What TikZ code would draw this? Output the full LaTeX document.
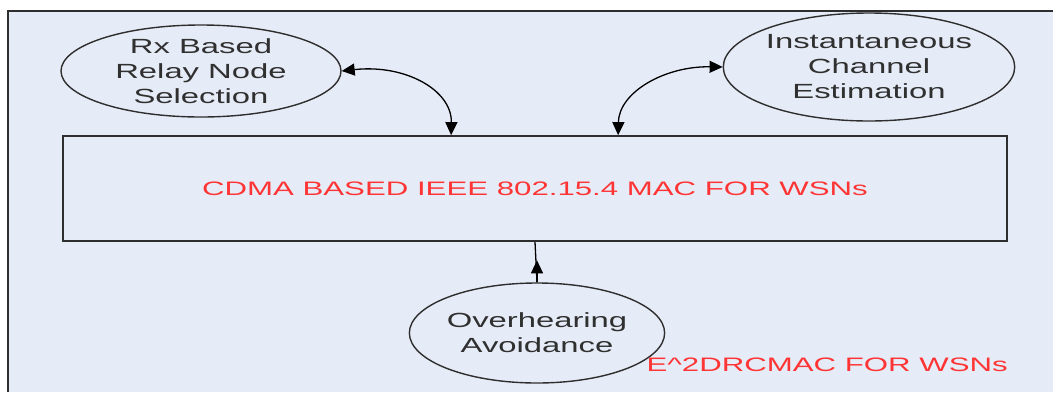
\documentclass[tikz,border=0pt]{standalone}
\usepackage{fontspec}
\newfontfamily\wide{Liberation Sans}[FakeStretch=1.6]
\usetikzlibrary{shapes.geometric,arrows.meta,calc}
\definecolor{bgblue}{HTML}{E6ECF7}
\definecolor{txtgray}{HTML}{303030}
\definecolor{linegray}{HTML}{2E2E2E}
\definecolor{redtxt}{HTML}{FF3535}
\tikzset{
  bubble/.style={ellipse,draw=linegray,line width=1.4pt,inner sep=0pt,align=center,
    text=txtgray,font=\wide\fontsize{20.5}{25}\selectfont},
  mainbox/.style={rectangle,draw=linegray,line width=1.8pt,inner sep=0pt,
    minimum width=944pt,minimum height=105pt,text=redtxt,font=\wide\fontsize{19.5}{23}\selectfont},
  conn/.style={draw=black,line width=1.3pt},
  tip/.style={-{Triangle[length=13pt,width=12pt]}},
  bitip/.style={{Triangle[length=13pt,width=12pt]}-{Triangle[length=13pt,width=12pt]}}
}
\begin{document}
\begin{tikzpicture}[x=1pt,y=-1pt]
\useasboundingbox (0,0) rectangle (1053,392);
\fill[bgblue] (8,11) rectangle (1053,392);
\draw[linegray,line width=2pt] (8,392) -- (8,11) -- (1053,11);
\node[mainbox] (box) at (535,188.5) {CDMA BASED IEEE 802.15.4 MAC FOR WSNs};
\node[bubble,minimum width=280pt,minimum height=92pt] (rx) at (201,71) {Rx Based\\Relay Node\\Selection};
\node[bubble,minimum width=280pt,minimum height=108pt] (ice) at (869,67) {Instantaneous\\Channel\\Estimation};
\node[bubble,minimum width=236pt,minimum height=100pt] (ov) at (537,333) {Overhearing\\Avoidance};
\node[text=redtxt,font=\wide\fontsize{19.5}{23}\selectfont,anchor=west] (lbl) at (643,365) {E\^{}2DRCMAC FOR WSNs};
\coordinate (t1) at ($(box.north west)+(389,0)$);
\coordinate (t2) at ($(box.north west)+(556,0)$);
\draw[conn,bitip] (rx.east) .. controls (405,64) and (452,90) .. (t1);
\draw[conn,bitip] (ice.west) .. controls (665,66) and (619,92) .. (t2);
\draw[conn] (ov.north) -- (box.south);
\draw[conn,tip] (ov.north) -- ++(0,-22);
\end{tikzpicture}
\end{document}
